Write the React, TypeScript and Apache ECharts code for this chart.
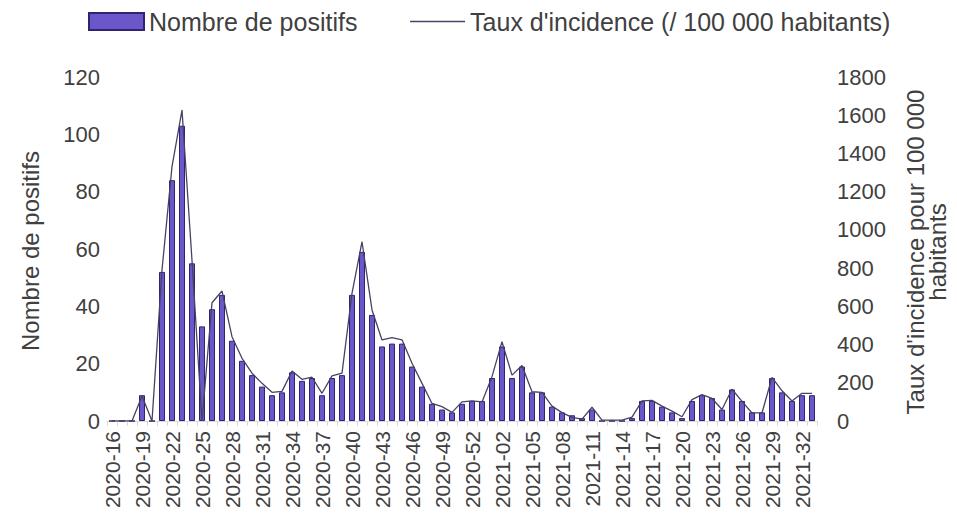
import React, { useEffect, useRef } from "react";
import * as echarts from "echarts";

// ISO weeks 2020-16 .. 2021-33
const weeks2020: number[] = [];
for (let w = 16; w <= 53; w++) weeks2020.push(w);
const weeks2021: number[] = [];
for (let w = 1; w <= 33; w++) weeks2021.push(w);
const categories: string[] = [
  ...weeks2020.map((w) => `2020-${String(w).padStart(2, "0")}`),
  ...weeks2021.map((w) => `2021-${String(w).padStart(2, "0")}`),
];

const positifs: number[] = [
  0, 0, 0, 9, 0, 52, 84, 103, 55, 33,
  39, 44, 28, 21, 16, 12, 9, 10, 17, 14,
  15, 9, 15, 16, 44, 59, 37, 26, 27, 27,
  19, 12, 6, 4, 3, 6, 7, 7, 15, 26,
  15, 19, 10, 10, 5, 3, 2, 1, 4, 0,
  0, 0, 1, 7, 7, 5, 3, 1, 7, 9,
  8, 4, 11, 7, 3, 3, 15, 10, 7, 9,
  9,
];

const incidence: number[] = [
  0, 0, 0, 131, 0, 790, 1331, 1627, 840, 0,
  619, 680, 441, 328, 250, 197, 150, 155, 262, 218,
  229, 145, 236, 250, 668, 938, 581, 424, 436, 425,
  302, 197, 92, 75, 45, 100, 105, 100, 232, 415,
  240, 290, 153, 150, 78, 44, 19, 10, 72, 5,
  5, 5, 20, 105, 108, 78, 52, 22, 112, 138,
  118, 60, 166, 103, 42, 42, 228, 158, 105, 145,
  145,
];

const leftTicks = { min: 0, max: 120, interval: 20 };
const rightTicks = { min: 0, max: 1800, interval: 200 };

const barName = "Nombre de positifs";
const lineName = "Taux d'incidence (/ 100 000 habitants)";
const leftTitle = "Nombre de positifs";
const rightTitle = "Taux d'incidence pour 100 000\nhabitants";

const FONT = "'Liberation Sans', Arial, sans-serif";
const TEXT = "#404040";
const LINE = "#474262";

export default function App() {
  const ref = useRef<HTMLDivElement>(null);
  useEffect(() => {
    if (!ref.current) return;
    const chart = echarts.init(ref.current, undefined, { renderer: "svg" });
    chart.setOption({
      animation: false,
      backgroundColor: "#ffffff",
      textStyle: { fontFamily: FONT, color: TEXT },
      legend: {
        left: 83,
        top: 4,
        itemWidth: 55,
        itemHeight: 17,
        itemGap: 52,
        textStyle: { fontSize: 25, color: TEXT, fontFamily: FONT },
        data: [
          { name: barName, icon: "rect" },
          {
            name: lineName,
            itemStyle: { opacity: 0 },
            lineStyle: { color: LINE, width: 1.3 },
          },
        ],
      },
      grid: { left: 107, right: 140, top: 77, bottom: 92, containLabel: false },
      xAxis: {
        type: "category",
        data: categories,
        boundaryGap: true,
        axisLine: { show: true, lineStyle: { color: "#d9d9d9", width: 1 } },
        axisTick: { show: true, interval: 0, length: 5, lineStyle: { color: "#d9d9d9" } },
        axisLabel: {
          interval: 2,
          rotate: 90,
          fontSize: 21,
          color: TEXT,
          fontFamily: FONT,
          margin: 10,
        },
      },
      yAxis: [
        {
          type: "value",
          ...leftTicks,
          axisLine: { show: false },
          axisTick: { show: false },
          splitLine: { show: false },
          axisLabel: {
            fontSize: 22,
            color: TEXT,
            fontFamily: FONT,
            margin: 7,
            formatter: (v: number) => String(v),
          },
        },
        {
          type: "value",
          position: "right",
          ...rightTicks,
          axisLine: { show: false },
          axisTick: { show: false },
          splitLine: { show: false },
          axisLabel: {
            fontSize: 22,
            color: TEXT,
            fontFamily: FONT,
            margin: 20,
            formatter: (v: number) => String(v),
          },
        },
      ],
      graphic: [
        {
          type: "text",
          x: 30,
          y: 251,
          rotation: Math.PI / 2,
          style: {
            text: leftTitle,
            fontSize: 24,
            fontFamily: FONT,
            fill: TEXT,
            align: "center",
            verticalAlign: "middle",
          },
        },
        {
          type: "text",
          x: 926,
          y: 252,
          rotation: Math.PI / 2,
          style: {
            text: rightTitle,
            fontSize: 24,
            lineHeight: 22,
            fontFamily: FONT,
            fill: TEXT,
            align: "center",
            verticalAlign: "middle",
          },
        },
      ],
      series: [
        {
          name: barName,
          type: "bar",
          yAxisIndex: 0,
          data: positifs,
          barWidth: 6,
          itemStyle: { color: "#6b57c9", borderColor: "#2e2470", borderWidth: 1 },
        },
        {
          name: lineName,
          type: "line",
          yAxisIndex: 1,
          data: incidence,
          symbol: "none",
          lineStyle: { color: LINE, width: 1.3 },
          itemStyle: { color: LINE },
        },
      ],
    });
    return () => chart.dispose();
  }, []);
  return (
    <div
      ref={ref}
      style={{ position: "fixed", left: 0, top: 0, width: 957, height: 513 }}
    />
  );
}
